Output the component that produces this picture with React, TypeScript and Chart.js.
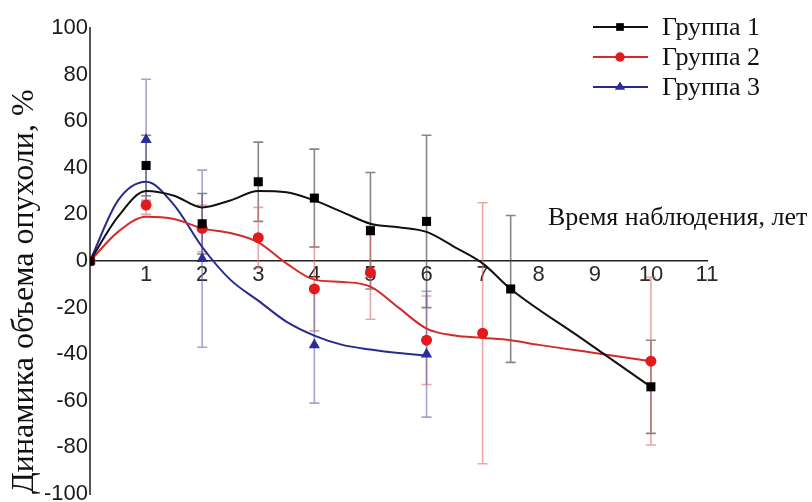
import React, { useEffect, useRef } from 'react';
import { Chart, registerables } from 'chart.js';

Chart.register(...registerables);

// ---- data ----
const seriesNames = ['Группа 1', 'Группа 2', 'Группа 3'];
const xAxisTitle = 'Время наблюдения, лет';
const yAxisTitle = 'Динамика объема опухоли, %';

const g1X = [0, 1, 2, 3, 4, 5, 6, 7.5, 10];
const g1Y = [0, 41, 16, 34, 27, 13, 17, -12, -54];
const g1Err = [0, 13, 13, 17, 21, 25, 37, 31.5, 20];

const g2X = [0, 1, 2, 3, 4, 5, 6, 7, 10];
const g2Y = [0, 24, 14, 10, -12, -5, -34, -31, -43];
const g2Err = [0, 4, 10, 13, 18, 20, 19, 56, 36];

const g3X = [0, 1, 2, 4, 6];
const g3Y = [0, 52, 1, -36, -40];
const g3Err = [0, 26, 38, 25, 27];

// fitted (smoothed) trend curves
const fit1X = [0, 0.5, 1, 1.5, 2, 2.5, 3, 3.5, 4, 4.5, 5, 5.5, 6, 6.5, 7, 7.5, 8.75, 10];
const fit1Y = [0, 19, 30, 28, 23, 26, 30, 29.5, 26, 21, 16, 14.5, 12.5, 6, -1, -12, -33, -54];

const fit2X = [0, 0.5, 1, 1.5, 2, 2.5, 3, 3.5, 4, 4.5, 5, 5.5, 6, 6.5, 7, 7.5, 8, 9, 10];
const fit2Y = [0, 12.5, 19, 18, 14, 12, 8, -1, -8, -9, -11, -20, -29, -32, -33, -34, -36, -39.5, -43];

const fit3X = [0, 0.5, 1, 1.5, 2, 2.5, 3, 3.5, 4, 4.5, 5, 5.5, 6];
const fit3Y = [0, 26, 34, 24, 6, -8, -17, -26, -32, -36, -38, -39.5, -40.5];

const xTickValues = [1, 2, 3, 4, 5, 6, 7, 8, 9, 10, 11];
const yMin = -100;
const yMax = 100;
const yStep = 20;

const colors = ['#000000', '#e3191c', '#2c2c9c'];
const lineColors = ['#111111', '#d42a2a', '#2a2a8e'];
const errColors = ['rgba(70,70,70,0.65)', 'rgba(215,110,110,0.6)', 'rgba(90,90,170,0.55)'];
const pointStyles = ['rect', 'circle', 'triangle'];
const pointRadii = [6.4, 5.5, 6.5];

const toXY = (xs: number[], ys: number[]) => xs.map((x, i) => ({ x, y: ys[i] }));

const groups = [
  { xs: g1X, ys: g1Y, err: g1Err },
  { xs: g2X, ys: g2Y, err: g2Err },
  { xs: g3X, ys: g3Y, err: g3Err },
];
const fits = [
  { xs: fit1X, ys: fit1Y },
  { xs: fit2X, ys: fit2Y },
  { xs: fit3X, ys: fit3Y },
];

function drawMarker(ctx: CanvasRenderingContext2D, style: string, x: number, y: number, r: number, color: string) {
  ctx.save();
  ctx.fillStyle = color;
  ctx.beginPath();
  if (style === 'rect') {
    const s = r / Math.SQRT2;
    ctx.rect(x - s, y - s, 2 * s, 2 * s);
  } else if (style === 'circle') {
    ctx.arc(x, y, r, 0, Math.PI * 2);
  } else {
    const h = r * 1.5;
    ctx.moveTo(x, y - r);
    ctx.lineTo(x + r * 0.95, y + h - r);
    ctx.lineTo(x - r * 0.95, y + h - r);
    ctx.closePath();
  }
  ctx.fill();
  ctx.restore();
}

const errorBarPlugin = {
  id: 'errorBars',
  beforeDatasetsDraw(chart: any) {
    const { ctx, scales } = chart;
    const xs = scales.x;
    const ys = scales.y;
    ctx.save();
    groups.forEach((g, gi) => {
      ctx.strokeStyle = errColors[gi];
      ctx.lineWidth = 1.6;
      g.xs.forEach((xv, i) => {
        const e = g.err[i];
        if (!e) return;
        const px = xs.getPixelForValue(xv);
        const pt = ys.getPixelForValue(g.ys[i] + e);
        const pb = ys.getPixelForValue(g.ys[i] - e);
        ctx.beginPath();
        ctx.moveTo(px, pt);
        ctx.lineTo(px, pb);
        ctx.moveTo(px - 5, pt);
        ctx.lineTo(px + 5, pt);
        ctx.moveTo(px - 5, pb);
        ctx.lineTo(px + 5, pb);
        ctx.stroke();
      });
    });
    ctx.restore();
  },
};

const annotationsPlugin = {
  id: 'annotations',
  afterDraw(chart: any) {
    const { ctx } = chart;
    ctx.save();
    // x axis title, placed above the axis at the right
    ctx.font = '26px "Liberation Serif", "Times New Roman", serif';
    ctx.fillStyle = '#111';
    ctx.textAlign = 'left';
    ctx.textBaseline = 'alphabetic';
    ctx.fillText(xAxisTitle, 548, 225);

    // legend
    const rowY = [27, 57, 87];
    seriesNames.forEach((name, i) => {
      const y = rowY[i];
      ctx.strokeStyle = lineColors[i];
      ctx.lineWidth = 2;
      ctx.beginPath();
      ctx.moveTo(593, y);
      ctx.lineTo(648, y);
      ctx.stroke();
      drawMarker(ctx, pointStyles[i], 620, y, pointRadii[i] * 0.85, colors[i]);
      ctx.fillStyle = '#111';
      ctx.textBaseline = 'middle';
      ctx.font = '26px "Liberation Serif", "Times New Roman", serif';
      ctx.fillText(name, 662, y + 1);
    });
    ctx.restore();
  },
};

export default function App() {
  const canvasRef = useRef<HTMLCanvasElement | null>(null);

  useEffect(() => {
    const canvas = canvasRef.current;
    if (!canvas) return;

    const datasets: any[] = [];
    groups.forEach((g, i) => {
      datasets.push({
        label: seriesNames[i],
        data: toXY(g.xs, g.ys),
        showLine: false,
        pointStyle: pointStyles[i],
        pointRadius: pointRadii[i],
        pointBackgroundColor: colors[i],
        pointBorderColor: colors[i],
        pointBorderWidth: 0,
        order: 0,
      });
    });
    fits.forEach((f, i) => {
      datasets.push({
        label: seriesNames[i] + ' (тренд)',
        data: toXY(f.xs, f.ys),
        showLine: true,
        pointRadius: 0,
        borderColor: lineColors[i],
        borderWidth: 2,
        cubicInterpolationMode: 'monotone',
        fill: false,
        order: 1,
      });
    });

    const chart = new Chart(canvas, {
      type: 'scatter',
      data: { datasets },
      plugins: [errorBarPlugin, annotationsPlugin],
      options: {
        animation: false,
        responsive: false,
        devicePixelRatio: 1,
        layout: { padding: { left: 0, top: 28, right: 105, bottom: 18 } },
        plugins: {
          legend: { display: false },
          tooltip: { enabled: false },
        },
        scales: {
          x: {
            type: 'linear',
            position: { y: 0 } as any,
            min: 0,
            max: 11,
            afterBuildTicks: (scale: any) => {
              scale.ticks = xTickValues.map((v) => ({ value: v }));
            },
            grid: { display: false, drawTicks: false },
            border: { display: true, color: '#222', width: 1.6 },
            ticks: {
              padding: 1,
              color: '#2a2a2a',
              font: { family: '"Liberation Sans", Arial, sans-serif', size: 22 },
              maxRotation: 0,
              autoSkip: false,
            },
          },
          y: {
            type: 'linear',
            position: 'left',
            min: yMin,
            max: yMax,
            afterFit: (scale: any) => {
              scale.width = 90;
            },
            grid: { display: false, drawTicks: false },
            border: { display: true, color: '#555', width: 2 },
            ticks: {
              stepSize: yStep,
              padding: 2,
              color: '#1a1a1a',
              font: { family: '"Liberation Sans", Arial, sans-serif', size: 22 },
            },
            title: {
              display: true,
              text: yAxisTitle,
              align: 'start',
              color: '#111',
              font: { family: '"Liberation Serif", "Times New Roman", serif', size: 32 },
              padding: { top: 5, bottom: 0 },
            },
          },
        },
      } as any,
    });

    return () => {
      chart.destroy();
    };
  }, []);

  return (
    <div style={{ position: 'absolute', left: 0, top: 0, width: 812, height: 502, overflow: 'hidden', background: '#fff' }}>
      <canvas ref={canvasRef} width={812} height={512} style={{ display: 'block' }} />
    </div>
  );
}
